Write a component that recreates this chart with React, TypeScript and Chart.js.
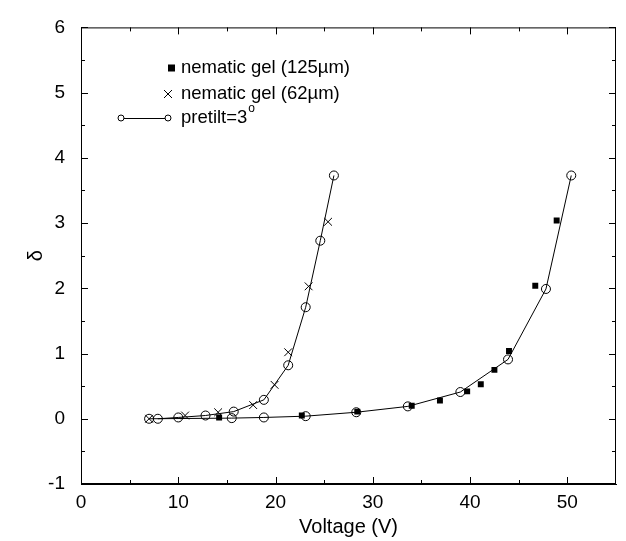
import React, { useEffect, useRef } from "react";
import { Chart, registerables } from "chart.js";

Chart.register(...registerables);

// Model curve, pretilt = 3°, thinner cell (left)
const modelLeftX = [7.9, 10.0, 12.8, 15.7, 18.8, 21.3, 23.1, 24.6, 26.0];
const modelLeftY = [0.0, 0.02, 0.05, 0.11, 0.29, 0.82, 1.71, 2.73, 3.73];
// Model curve, pretilt = 3°, thicker cell (right)
const modelRightX = [7.0, 15.5, 18.8, 23.1, 28.3, 33.6, 39.0, 43.9, 47.8, 50.4];
const modelRightY = [0.0, 0.01, 0.02, 0.04, 0.10, 0.19, 0.41, 0.91, 1.99, 3.73];
// nematic gel (62µm)
const gel62X = [7.0, 10.7, 14.1, 17.7, 19.9, 21.3, 23.4, 25.4];
const gel62Y = [0.0, 0.05, 0.1, 0.21, 0.52, 1.02, 2.03, 3.02];
// nematic gel (125µm)
const gel125X = [14.2, 22.7, 28.4, 34.0, 36.9, 39.7, 41.1, 42.5, 44.0, 46.7, 48.9];
const gel125Y = [0.02, 0.05, 0.11, 0.2, 0.28, 0.42, 0.53, 0.75, 1.04, 2.04, 3.04];

const xTickValues = [0, 10, 20, 30, 40, 50];
const yTickValues = [-1, 0, 1, 2, 3, 4, 5, 6];
const xMinorTicks = [5, 15, 25, 35, 45];
const yMinorTicks = [-0.5, 0.5, 1.5, 2.5, 3.5, 4.5, 5.5];

const legendLabels = ["nematic gel (125\u00b5m)", "nematic gel (62\u00b5m)", "pretilt=3"];

const FONT = "'Liberation Sans', Arial, Helvetica, sans-serif";

const zip = (xs: number[], ys: number[]) => xs.map((x, i) => ({ x, y: ys[i] }));

const framePlugin = {
  id: "frameTicks",
  afterDraw(chart: any) {
    const { ctx, chartArea } = chart;
    const xs = chart.scales.x;
    const ys = chart.scales.y;
    const { left, right, top, bottom } = chartArea;
    ctx.save();
    ctx.strokeStyle = "#000";
    ctx.lineWidth = 1;
    ctx.strokeRect(left + 0.5, top + 0.5, right - left - 1, bottom - top - 1);
    ctx.beginPath();
    const major = 7;
    const minor = 4;
    xTickValues.forEach((v) => {
      const p = Math.round(xs.getPixelForValue(v)) + 0.5;
      ctx.moveTo(p, bottom);
      ctx.lineTo(p, bottom - major);
      ctx.moveTo(p, top);
      ctx.lineTo(p, top + major);
    });
    xMinorTicks.forEach((v) => {
      const p = Math.round(xs.getPixelForValue(v)) + 0.5;
      ctx.moveTo(p, bottom);
      ctx.lineTo(p, bottom - minor);
      ctx.moveTo(p, top);
      ctx.lineTo(p, top + minor);
    });
    yTickValues.forEach((v) => {
      const p = Math.round(ys.getPixelForValue(v)) + 0.5;
      ctx.moveTo(left, p);
      ctx.lineTo(left + major, p);
      ctx.moveTo(right, p);
      ctx.lineTo(right - major, p);
    });
    yMinorTicks.forEach((v) => {
      const p = Math.round(ys.getPixelForValue(v)) + 0.5;
      ctx.moveTo(left, p);
      ctx.lineTo(left + minor, p);
      ctx.moveTo(right, p);
      ctx.lineTo(right - minor, p);
    });
    ctx.stroke();

    // Legend
    const tx = 181;
    const rows = [68, 94, 118];
    ctx.fillStyle = "#000";
    ctx.font = `18.5px ${FONT}`;
    ctx.textBaseline = "middle";
    ctx.textAlign = "left";
    // row 1: filled square
    ctx.fillRect(168, rows[0] - 3.5, 7, 7);
    ctx.fillText(legendLabels[0], tx, rows[0]);
    // row 2: x mark
    ctx.beginPath();
    ctx.moveTo(164, rows[1] - 4);
    ctx.lineTo(172, rows[1] + 4);
    ctx.moveTo(172, rows[1] - 4);
    ctx.lineTo(164, rows[1] + 4);
    ctx.stroke();
    ctx.fillText(legendLabels[1], tx, rows[1]);
    // row 3: line with circles
    ctx.beginPath();
    ctx.moveTo(124, rows[2] + 0.5);
    ctx.lineTo(165, rows[2] + 0.5);
    ctx.stroke();
    [121, 168].forEach((cx) => {
      ctx.beginPath();
      ctx.arc(cx, rows[2], 3, 0, Math.PI * 2);
      ctx.stroke();
    });
    ctx.fillText(legendLabels[2], tx, rows[2]);
    const w = ctx.measureText(legendLabels[2]).width;
    ctx.font = `12px ${FONT}`;
    ctx.fillText("o", tx + w + 1, rows[2] - 9);
    ctx.restore();
  },
};

export default function App() {
  const ref = useRef<HTMLCanvasElement | null>(null);
  useEffect(() => {
    document.body.style.margin = "0";
    if (!ref.current) return;
    const chart = new Chart(ref.current, {
      type: "scatter",
      data: {
        datasets: [
          {
            label: "model left",
            data: zip(modelLeftX, modelLeftY),
            showLine: true,
            borderColor: "#000",
            borderWidth: 1,
            pointStyle: "circle",
            pointRadius: 4.5,
            pointBorderWidth: 1,
            pointBackgroundColor: "rgba(0,0,0,0)",
            pointBorderColor: "#000",
          },
          {
            label: "model right",
            data: zip(modelRightX, modelRightY),
            showLine: true,
            borderColor: "#000",
            borderWidth: 1,
            pointStyle: "circle",
            pointRadius: 4.5,
            pointBorderWidth: 1,
            pointBackgroundColor: "rgba(0,0,0,0)",
            pointBorderColor: "#000",
          },
          {
            label: legendLabels[1],
            data: zip(gel62X, gel62Y),
            showLine: false,
            pointStyle: "crossRot",
            pointRadius: 5.5,
            pointBorderWidth: 1,
            pointBorderColor: "#000",
          },
          {
            label: legendLabels[0],
            data: zip(gel125X, gel125Y),
            showLine: false,
            pointStyle: "rect",
            pointRadius: 4.2,
            pointBorderWidth: 0,
            pointBackgroundColor: "#000",
            pointBorderColor: "#000",
          },
        ],
      },
      options: {
        animation: false,
        responsive: false,
        maintainAspectRatio: false,
        layout: { padding: { top: 13, right: 10, left: 0, bottom: 0 } },
        plugins: { legend: { display: false }, tooltip: { enabled: false } },
        scales: {
          x: {
            type: "linear",
            min: 0,
            max: 55,
            afterBuildTicks: (s: any) => {
              s.ticks = xTickValues.map((v) => ({ value: v }));
            },
            afterFit: (s: any) => {
              s.height = 57;
            },
            grid: { display: false, drawTicks: false },
            border: { display: true, color: "#000" },
            ticks: {
              color: "#000",
              padding: 7,
              font: { family: FONT, size: 19 },
              maxRotation: 0,
              autoSkip: false,
            },
            title: {
              display: true,
              text: "Voltage (V)",
              color: "#000",
              font: { family: FONT, size: 20 },
              padding: { top: 0, bottom: 2 },
            },
          },
          y: {
            type: "linear",
            min: -1,
            max: 6,
            afterBuildTicks: (s: any) => {
              s.ticks = yTickValues.map((v) => ({ value: v }));
            },
            afterFit: (s: any) => {
              s.width = 81;
            },
            grid: { display: false, drawTicks: false },
            border: { display: true, color: "#000" },
            ticks: {
              color: "#000",
              padding: 16,
              font: { family: FONT, size: 19 },
              autoSkip: false,
            },
            title: {
              display: true,
              text: "\u03b4",
              color: "#000",
              font: { family: FONT, size: 20 },
              padding: { top: 24, bottom: 0 },
            },
          },
        },
      },
      plugins: [framePlugin],
    } as any);
    return () => chart.destroy();
  }, []);
  return <canvas ref={ref} width={626} height={541} style={{ display: "block" }} />;
}
